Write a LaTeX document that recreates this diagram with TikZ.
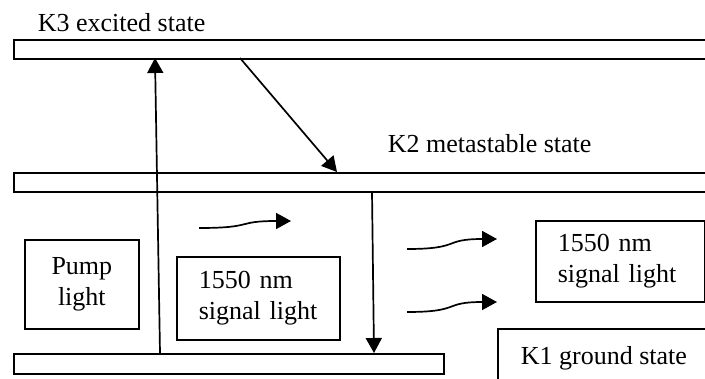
\documentclass[tikz,border=0pt]{standalone}
\usepackage{fontspec}
\setmainfont{Liberation Serif}
\usetikzlibrary{arrows.meta}

\begin{document}
\begin{tikzpicture}[x=0.5pt, y=-0.5pt, line width=0.85pt,
    level/.style={draw, rectangle, anchor=north west, minimum height=9.5pt, inner sep=0pt},
    txt/.style={font=\fontsize{13}{15.5}\selectfont, inner sep=0pt},
    lightbox/.style={draw, rectangle, anchor=north west, txt, align=left, inner xsep=11pt},
    arr/.style={-{Triangle[length=7.5pt, width=8pt]}}]
                \useasboundingbox (0,0) rectangle (705,379);
                \clip (0,0) rectangle (705,379);
                \node[level, minimum width=350pt] (k3) at (13,39) {};
                \node[level, minimum width=350pt] (k2) at (13,172) {};
                \node[level, minimum width=215pt, minimum height=10pt] (k1) at (13,353) {};
                \node[txt, anchor=base west] (k3lbl) at (37,32) {K3 excited state};
                \node[txt, anchor=base west] (k2lbl) at (387,153) {K2 metastable state};
                \node[txt, anchor=base west] (k1lbl) at (520,364) {K1 ground state};
                \draw (720,329) -| (498,390);
                \node[lightbox, align=center, text width=35pt, minimum width=57pt, minimum height=44.5pt] (pump) at (24,239) {Pump\\light};
                \node[lightbox, text width=59.5pt, minimum height=41.5pt] (sig1) at (176,256) {1550 nm\\signal light};
                \node[lightbox, text width=62.5pt, minimum height=40.5pt] (sig2) at (535,220) {1550 nm\\signal light};
                \coordinate (upfrom) at (160,353);
                \coordinate (upto) at (155,58);
                \coordinate (decayfrom) at (240,58);
                \coordinate (decayto) at (337,172);
                \coordinate (emitfrom) at (372,192);
                \coordinate (emitto) at (374,353);
                \coordinate (wa1) at (199,228);
                \coordinate (wa2) at (291,221);
                \coordinate (wb1) at (407,249);
                \coordinate (wb2) at (497,239);
                \coordinate (wc1) at (407,312);
                \coordinate (wc2) at (497,302);
                \draw[arr] (upfrom) -- (upto);
                \draw[arr] (decayfrom) -- (decayto);
                \draw[arr] (emitfrom) -- (emitto);
                \draw[arr] (wa1) .. controls +(56,0) and +(-56,0) .. (wa2);
                \draw[arr] (wb1) .. controls +(55,0) and +(-55,0) .. (wb2);
                \draw[arr] (wc1) .. controls +(55,0) and +(-55,0) .. (wc2);
            \end{tikzpicture}
\end{document}
